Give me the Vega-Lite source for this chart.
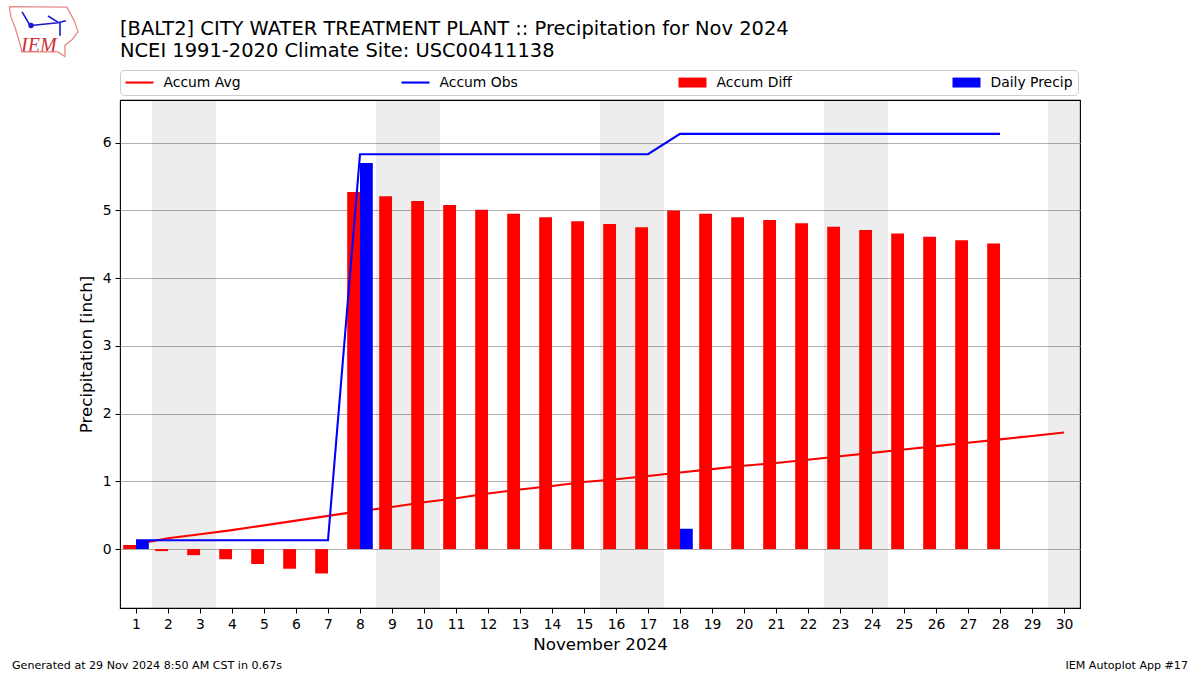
{
"$schema":"https://vega.github.io/schema/vega-lite/v6.json",
"width":960,"height":508,
"autosize":{"type":"none"},
"padding":{"left":120,"top":100,"right":120,"bottom":67},
"background":"white",
"config":{"font":"DejaVu Sans","view":{"stroke":"#000000","strokeWidth":1.1},"axis":{"labelOverlap":false}},
"title":{"text":["[BALT2] CITY WATER TREATMENT PLANT :: Precipitation for Nov 2024","NCEI 1991-2020 Climate Site: USC00411138"],"anchor":"start","frame":"group","fontSize":19.45,"fontWeight":"normal","color":"#000000","lineHeight":22,"offset":-58},
"datasets":{
"shade":[{"start":1.5,"end":3.5},{"start":8.5,"end":10.5},{"start":15.5,"end":17.5},{"start":22.5,"end":24.5},{"start":29.5,"end":30.5}],
"series":[
{"day":1,"series":"Accum Avg","value":0.07},{"day":2,"series":"Accum Avg","value":0.16},{"day":3,"series":"Accum Avg","value":0.22},{"day":4,"series":"Accum Avg","value":0.28},{"day":5,"series":"Accum Avg","value":0.35},{"day":6,"series":"Accum Avg","value":0.42},{"day":7,"series":"Accum Avg","value":0.49},{"day":8,"series":"Accum Avg","value":0.56},{"day":9,"series":"Accum Avg","value":0.62},{"day":10,"series":"Accum Avg","value":0.69},{"day":11,"series":"Accum Avg","value":0.75},{"day":12,"series":"Accum Avg","value":0.82},{"day":13,"series":"Accum Avg","value":0.88},{"day":14,"series":"Accum Avg","value":0.93},{"day":15,"series":"Accum Avg","value":0.99},{"day":16,"series":"Accum Avg","value":1.03},{"day":17,"series":"Accum Avg","value":1.08},{"day":18,"series":"Accum Avg","value":1.13},{"day":19,"series":"Accum Avg","value":1.18},{"day":20,"series":"Accum Avg","value":1.23},{"day":21,"series":"Accum Avg","value":1.27},{"day":22,"series":"Accum Avg","value":1.32},{"day":23,"series":"Accum Avg","value":1.37},{"day":24,"series":"Accum Avg","value":1.42},{"day":25,"series":"Accum Avg","value":1.47},{"day":26,"series":"Accum Avg","value":1.52},{"day":27,"series":"Accum Avg","value":1.57},{"day":28,"series":"Accum Avg","value":1.62},{"day":29,"series":"Accum Avg","value":1.67},{"day":30,"series":"Accum Avg","value":1.72},
{"day":1,"series":"Accum Obs","value":0.13},{"day":2,"series":"Accum Obs","value":0.13},{"day":3,"series":"Accum Obs","value":0.13},{"day":4,"series":"Accum Obs","value":0.13},{"day":5,"series":"Accum Obs","value":0.13},{"day":6,"series":"Accum Obs","value":0.13},{"day":7,"series":"Accum Obs","value":0.13},{"day":8,"series":"Accum Obs","value":5.83},{"day":9,"series":"Accum Obs","value":5.83},{"day":10,"series":"Accum Obs","value":5.83},{"day":11,"series":"Accum Obs","value":5.83},{"day":12,"series":"Accum Obs","value":5.83},{"day":13,"series":"Accum Obs","value":5.83},{"day":14,"series":"Accum Obs","value":5.83},{"day":15,"series":"Accum Obs","value":5.83},{"day":16,"series":"Accum Obs","value":5.83},{"day":17,"series":"Accum Obs","value":5.83},{"day":18,"series":"Accum Obs","value":6.13},{"day":19,"series":"Accum Obs","value":6.13},{"day":20,"series":"Accum Obs","value":6.13},{"day":21,"series":"Accum Obs","value":6.13},{"day":22,"series":"Accum Obs","value":6.13},{"day":23,"series":"Accum Obs","value":6.13},{"day":24,"series":"Accum Obs","value":6.13},{"day":25,"series":"Accum Obs","value":6.13},{"day":26,"series":"Accum Obs","value":6.13},{"day":27,"series":"Accum Obs","value":6.13},{"day":28,"series":"Accum Obs","value":6.13},
{"day":1,"series":"Accum Diff","value":0.06},{"day":2,"series":"Accum Diff","value":-0.03},{"day":3,"series":"Accum Diff","value":-0.09},{"day":4,"series":"Accum Diff","value":-0.15},{"day":5,"series":"Accum Diff","value":-0.22},{"day":6,"series":"Accum Diff","value":-0.29},{"day":7,"series":"Accum Diff","value":-0.36},{"day":8,"series":"Accum Diff","value":5.27},{"day":9,"series":"Accum Diff","value":5.21},{"day":10,"series":"Accum Diff","value":5.14},{"day":11,"series":"Accum Diff","value":5.08},{"day":12,"series":"Accum Diff","value":5.01},{"day":13,"series":"Accum Diff","value":4.95},{"day":14,"series":"Accum Diff","value":4.90},{"day":15,"series":"Accum Diff","value":4.84},{"day":16,"series":"Accum Diff","value":4.80},{"day":17,"series":"Accum Diff","value":4.75},{"day":18,"series":"Accum Diff","value":5.00},{"day":19,"series":"Accum Diff","value":4.95},{"day":20,"series":"Accum Diff","value":4.90},{"day":21,"series":"Accum Diff","value":4.86},{"day":22,"series":"Accum Diff","value":4.81},{"day":23,"series":"Accum Diff","value":4.76},{"day":24,"series":"Accum Diff","value":4.71},{"day":25,"series":"Accum Diff","value":4.66},{"day":26,"series":"Accum Diff","value":4.61},{"day":27,"series":"Accum Diff","value":4.56},{"day":28,"series":"Accum Diff","value":4.51},
{"day":1,"series":"Daily Precip","value":0.13},{"day":8,"series":"Daily Precip","value":5.70},{"day":18,"series":"Daily Precip","value":0.30}
],
"notes":[
{"day":-2.875,"value":-1.73,"label":"Generated at 29 Nov 2024 8:50 AM CST in 0.67s","side":"left"},
{"day":33.875,"value":-1.73,"label":"IEM Autoplot App #17","side":"right"},
{"day":-2.59,"value":7.43,"label":"IEM","side":"logo"}
],
"logoOutline":[
{"i":1,"day":-2.96,"value":8.01},{"i":2,"day":-1.16,"value":8.00},{"i":3,"day":-0.94,"value":7.81},{"i":4,"day":-0.81,"value":7.64},{"i":5,"day":-1.0,"value":7.52},{"i":6,"day":-1.22,"value":7.44},{"i":7,"day":-1.22,"value":7.27},{"i":8,"day":-1.44,"value":7.34},{"i":9,"day":-2.56,"value":7.34},{"i":10,"day":-2.69,"value":7.56},{"i":11,"day":-2.78,"value":7.70},{"i":12,"day":-2.91,"value":7.86},{"i":13,"day":-2.96,"value":8.01}
],
"logoNet":[
{"part":"a","i":1,"day":-2.28,"value":7.73},{"part":"a","i":2,"day":-1.44,"value":7.77},{"part":"a","i":3,"day":-1.19,"value":7.80},
{"part":"b","i":1,"day":-1.75,"value":7.87},{"part":"b","i":2,"day":-1.44,"value":7.78},
{"part":"c","i":1,"day":-1.375,"value":7.78},{"part":"c","i":2,"day":-1.375,"value":7.58},
{"part":"d","i":1,"day":-2.56,"value":7.93},{"part":"d","i":2,"day":-2.31,"value":7.73}
],
"logoDot":[{"day":-2.28,"value":7.73}]
},
"layer":[
{"data":{"name":"shade"},"mark":{"type":"rect","fill":"#000000","fillOpacity":0.07},
 "encoding":{"x":{"field":"start","type":"quantitative","scale":{"domain":[0.5,30.5],"nice":false,"zero":false,"padding":0},"axis":{"title":"November 2024","values":[1,2,3,4,5,6,7,8,9,10,11,12,13,14,15,16,17,18,19,20,21,22,23,24,25,26,27,28,29,30],"tickCount":60,"format":"d","grid":false,"domain":false,"tickColor":"#000000","tickSize":5,"labelColor":"#000000","labelFontSize":13.9,"labelPadding":4,"labelOverlap":false,"labelFlush":false,"titleFontSize":16.7,"titleFontWeight":"normal","titleColor":"#000000","titlePadding":6}},"x2":{"field":"end"}}},
{"data":{"name":"series"},"transform":[{"filter":"datum.series==='Accum Avg'"}],"mark":{"type":"line","strokeWidth":2.08,"interpolate":"linear"},
 "encoding":{"x":{"field":"day","type":"quantitative","scale":{"domain":[0.5,30.5],"nice":false,"zero":false,"padding":0}},"y":{"field":"value","type":"quantitative","scale":{"domain":[-0.87,6.63],"nice":false,"zero":false,"padding":0},"axis":{"title":"Precipitation [inch]","values":[0,1,2,3,4,5,6],"format":"d","grid":true,"gridColor":"#b0b0b0","gridWidth":1,"domain":false,"tickColor":"#000000","tickSize":5,"labelColor":"#000000","labelFontSize":13.9,"labelPadding":4,"titleFontSize":16.7,"titleFontWeight":"normal","titleColor":"#000000","titlePadding":7}},"color":{"field":"series","type":"nominal","scale":{"domain":["Accum Avg","Accum Obs","Accum Diff","Daily Precip"],"range":["#ff0000","#0000ff","#ff0000","#0000ff"]}}}},
{"data":{"name":"series"},"transform":[{"filter":"datum.series==='Accum Diff'"}],"mark":{"type":"bar","size":12.8,"xOffset":-6.4},
 "encoding":{"x":{"field":"day","type":"quantitative","scale":{"domain":[0.5,30.5],"nice":false,"zero":false,"padding":0}},"y":{"field":"value","type":"quantitative","stack":null,"scale":{"domain":[-0.87,6.63],"nice":false,"zero":false,"padding":0}},"color":{"field":"series","type":"nominal"}}},
{"data":{"name":"series"},"transform":[{"filter":"datum.series==='Daily Precip'"}],"mark":{"type":"bar","size":12.8,"xOffset":6.4},
 "encoding":{"x":{"field":"day","type":"quantitative","scale":{"domain":[0.5,30.5],"nice":false,"zero":false,"padding":0}},"y":{"field":"value","type":"quantitative","stack":null,"scale":{"domain":[-0.87,6.63],"nice":false,"zero":false,"padding":0}},"color":{"field":"series","type":"nominal"}}},
{"data":{"name":"series"},"transform":[{"filter":"datum.series==='Accum Obs'"}],"mark":{"type":"line","strokeWidth":2.08,"interpolate":"linear"},
 "encoding":{"x":{"field":"day","type":"quantitative","scale":{"domain":[0.5,30.5],"nice":false,"zero":false,"padding":0}},"y":{"field":"value","type":"quantitative","scale":{"domain":[-0.87,6.63],"nice":false,"zero":false,"padding":0}},"color":{"field":"series","type":"nominal"}}},
{"data":{"name":"series"},"transform":[{"filter":"datum.day>99"}],"mark":{"type":"point","filled":true,"opacity":1},
 "encoding":{"x":{"field":"day","type":"quantitative","scale":{"domain":[0.5,30.5],"nice":false,"zero":false,"padding":0}},"y":{"field":"value","type":"quantitative","scale":{"domain":[-0.87,6.63],"nice":false,"zero":false,"padding":0}},
 "color":{"field":"series","type":"nominal","legend":{"orient":"none","legendX":0,"legendY":-30,"direction":"horizontal","columns":4,"gridAlign":"each","columnPadding":160,"title":null,"padding":5.5,"strokeColor":"#cccccc","fillColor":"#ffffff","cornerRadius":4,"labelFontSize":13.9,"labelColor":"#000000","labelOffset":24,"symbolSize":196,"symbolStrokeWidth":0,"symbolOpacity":1}},
 "shape":{"field":"series","type":"nominal","scale":{"domain":["Accum Avg","Accum Obs","Accum Diff","Daily Precip"],"range":["M-1,-0.15H3V0.15H-1Z","M-1,-0.15H3V0.15H-1Z","M-1,-0.71H3V0.71H-1Z","M-1,-0.71H3V0.71H-1Z"]},"legend":{"orient":"none","legendX":0,"legendY":-30,"direction":"horizontal","columns":4,"gridAlign":"each","columnPadding":160,"title":null,"padding":5.5,"strokeColor":"#cccccc","fillColor":"#ffffff","cornerRadius":4,"labelFontSize":13.9,"labelColor":"#000000","labelOffset":24,"symbolSize":196,"symbolStrokeWidth":0,"symbolOpacity":1}}}},
{"data":{"name":"notes"},"transform":[{"filter":"datum.side==='left'"}],"mark":{"type":"text","align":"left","baseline":"middle","fontSize":11.1,"color":"#000000","clip":false},
 "encoding":{"x":{"field":"day","type":"quantitative","scale":{"domain":[0.5,30.5],"nice":false,"zero":false,"padding":0}},"y":{"field":"value","type":"quantitative","scale":{"domain":[-0.87,6.63],"nice":false,"zero":false,"padding":0}},"text":{"field":"label"}}},
{"data":{"name":"notes"},"transform":[{"filter":"datum.side==='right'"}],"mark":{"type":"text","align":"right","baseline":"middle","fontSize":11.1,"color":"#000000","clip":false},
 "encoding":{"x":{"field":"day","type":"quantitative","scale":{"domain":[0.5,30.5],"nice":false,"zero":false,"padding":0}},"y":{"field":"value","type":"quantitative","scale":{"domain":[-0.87,6.63],"nice":false,"zero":false,"padding":0}},"text":{"field":"label"}}},
{"data":{"name":"notes"},"transform":[{"filter":"datum.side==='logo'"}],"mark":{"type":"text","align":"left","baseline":"middle","fontSize":20,"font":"Liberation Serif","fontStyle":"italic","color":"#d03030","clip":false},
 "encoding":{"x":{"field":"day","type":"quantitative","scale":{"domain":[0.5,30.5],"nice":false,"zero":false,"padding":0}},"y":{"field":"value","type":"quantitative","scale":{"domain":[-0.87,6.63],"nice":false,"zero":false,"padding":0}},"text":{"field":"label"}}},
{"data":{"name":"logoOutline"},"mark":{"type":"line","stroke":"#e58a8a","strokeWidth":1.3,"clip":false},
 "encoding":{"x":{"field":"day","type":"quantitative","scale":{"domain":[0.5,30.5],"nice":false,"zero":false,"padding":0}},"y":{"field":"value","type":"quantitative","scale":{"domain":[-0.87,6.63],"nice":false,"zero":false,"padding":0}},"order":{"field":"i"}}},
{"data":{"name":"logoNet"},"mark":{"type":"line","stroke":"#1a1ad0","strokeWidth":1.6,"clip":false},
 "encoding":{"x":{"field":"day","type":"quantitative","scale":{"domain":[0.5,30.5],"nice":false,"zero":false,"padding":0}},"y":{"field":"value","type":"quantitative","scale":{"domain":[-0.87,6.63],"nice":false,"zero":false,"padding":0}},"detail":{"field":"part"},"order":{"field":"i"}}},
{"data":{"name":"logoDot"},"mark":{"type":"point","filled":true,"color":"#1a1ad0","size":28,"opacity":1,"clip":false},
 "encoding":{"x":{"field":"day","type":"quantitative","scale":{"domain":[0.5,30.5],"nice":false,"zero":false,"padding":0}},"y":{"field":"value","type":"quantitative","scale":{"domain":[-0.87,6.63],"nice":false,"zero":false,"padding":0}}}}
]
}
